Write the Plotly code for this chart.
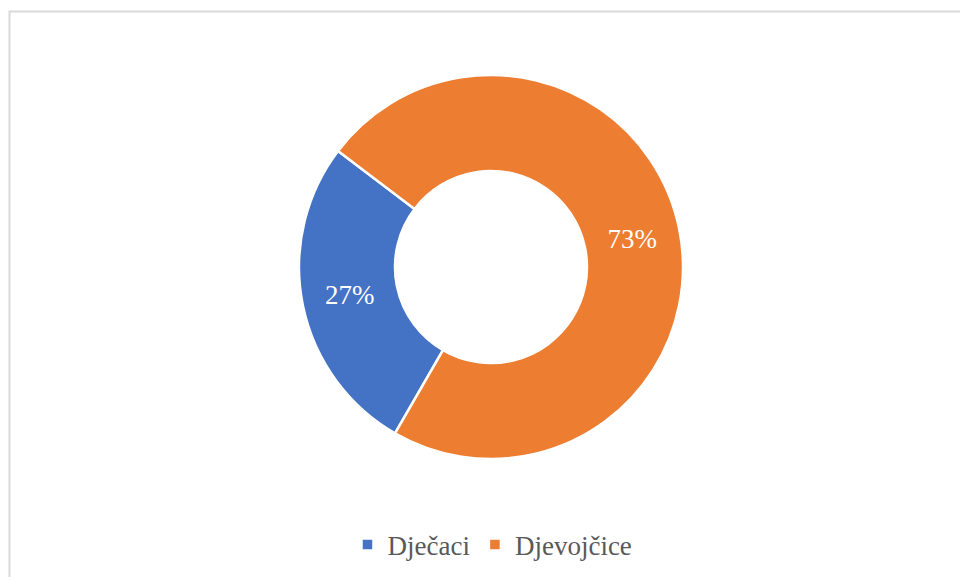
import plotly.graph_objects as go

# Share of children by gender
labels = ["Dječaci", "Djevojčice"]
values = [27, 73]
colors = ["#4472C4", "#ED7D31"]

W, H = 960, 577
cx, cy, r = 491, 267, 192  # pie centre and outer radius in pixels

fig = go.Figure(
    go.Pie(
        labels=labels,
        values=values,
        hole=0.5,
        sort=False,
        direction="clockwise",
        rotation=210,
        marker=dict(colors=colors, line=dict(color="white", width=2.5)),
        textinfo="percent",
        texttemplate="%{percent:.0%}",
        textposition="inside",
        insidetextorientation="horizontal",
        textfont=dict(family="Liberation Serif", size=27, color="white"),
        domain=dict(
            x=[(cx - r) / W, (cx + r) / W],
            y=[1 - (cy + r) / H, 1 - (cy - r) / H],
        ),
        hoverinfo="label+percent",
    )
)

fig.update_layout(
    width=W,
    height=H,
    margin=dict(l=0, r=0, t=0, b=0),
    paper_bgcolor="white",
    plot_bgcolor="white",
    showlegend=True,
    legend=dict(
        orientation="h",
        x=0.513,
        xanchor="center",
        y=1 - 545 / H,
        yanchor="middle",
        font=dict(family="Liberation Serif", size=27, color="#595959"),
        itemwidth=30,
        tracegroupgap=0,
    ),
    shapes=[
        dict(
            type="rect",
            xref="paper",
            yref="paper",
            x0=9.5 / W,
            x1=1.05,
            y0=-0.05,
            y1=1 - 11.5 / H,
            line=dict(color="#d9d9d9", width=2),
            fillcolor="rgba(0,0,0,0)",
        )
    ],
)

fig.write_html("out.html")
